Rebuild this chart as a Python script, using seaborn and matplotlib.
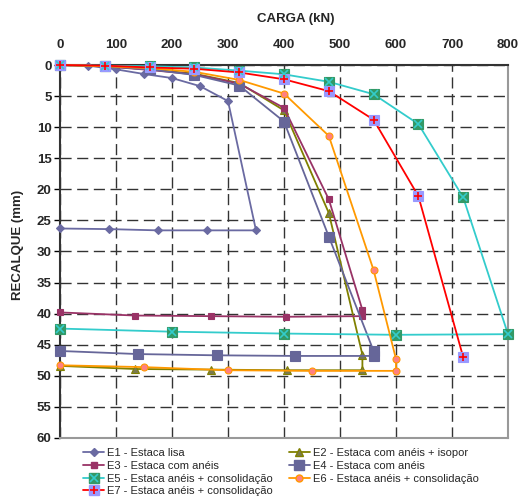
import matplotlib
matplotlib.use('Agg')
import matplotlib.pyplot as plt
from matplotlib.lines import Line2D
import seaborn as sns

# load (kN) / settlement (mm)
e1_carga = [0, 50, 100, 150, 200, 250, 300, 350, 263, 175, 88, 0]
e1_recalque = [0, 0.1, 0.7, 1.45, 2.1, 3.4, 5.8, 26.6, 26.6, 26.6, 26.4, 26.3]

e2_carga = [0, 80, 160, 240, 320, 400, 480, 540, 540, 405, 270, 134, 0]
e2_recalque = [0, 0.2, 0.7, 1.4, 2.9, 7.3, 23.8, 46.6, 49.1, 49.1, 49.0, 48.9, 48.4]

e3_carga = [0, 80, 160, 240, 320, 400, 480, 540, 540, 404, 269, 134, 0]
e3_recalque = [0, 0.2, 0.8, 1.5, 3.0, 6.9, 21.6, 39.4, 40.4, 40.5, 40.4, 40.3, 39.8]

e4_carga = [0, 80, 160, 240, 320, 400, 480, 560, 560, 420, 280, 140, 0]
e4_recalque = [0, 0.2, 0.7, 1.6, 3.3, 9.1, 27.6, 46.0, 46.8, 46.8, 46.7, 46.5, 46.0]

e5_carga = [0, 80, 160, 240, 320, 400, 480, 560, 640, 720, 800, 600, 400, 200, 0]
e5_recalque = [0, 0.1, 0.2, 0.4, 0.9, 1.5, 2.7, 4.7, 9.5, 21.3, 43.3, 43.4, 43.2, 42.9, 42.4]

e6_carga = [0, 80, 160, 240, 320, 400, 480, 560, 600, 600, 450, 300, 150, 0]
e6_recalque = [0, 0.2, 0.5, 1.1, 2.4, 4.6, 11.4, 33.0, 47.3, 49.2, 49.2, 49.1, 48.6, 48.3]

e7_carga = [0, 80, 160, 240, 320, 400, 480, 560, 640, 720]
e7_recalque = [0, 0.1, 0.4, 0.6, 1.2, 2.3, 4.2, 8.8, 21.1, 47.0]

labels = ['E1 - Estaca lisa',
          'E2 - Estaca com anéis + isopor',
          'E3 - Estaca com anéis',
          'E4 - Estaca com anéis',
          'E5 - Estaca anéis + consolidação',
          'E6 - Estaca anéis + consolidação',
          'E7 - Estaca anéis + consolidação']

sns.set_style('white')
plt.rcParams['font.family'] = ['Liberation Sans', 'DejaVu Sans']

fig = plt.figure(figsize=(5.18, 4.98), dpi=100)
ax = fig.add_axes([60 / 518, 1 - 438 / 498, 448 / 518, 373 / 498])

# (x, y, line colour, marker, size, face, edge, overlay marker, overlay colour)
series = [
    (e1_carga, e1_recalque, '#6A6AA2', 'D', 4.5, '#6A6AA2', '#6A6AA2', None, None),
    (e2_carga, e2_recalque, '#808000', '^', 6, '#7A7A50', '#808000', None, None),
    (e3_carga, e3_recalque, '#993366', 's', 5, '#993366', '#993366', None, None),
    (e4_carga, e4_recalque, '#666699', 's', 7, '#666699', '#666699', None, None),
    (e5_carga, e5_recalque, '#33CCCC', 's', 7, '#339966', '#339966', 'x', '#33CCCC'),
    (e6_carga, e6_recalque, '#FF9900', 'o', 5, '#FF8080', '#FF9900', None, None),
    (e7_carga, e7_recalque, '#FF0000', 's', 6.5, '#9999FF', '#9999FF', '+', '#FF0000'),
]

handles = []
for xs, ys, lc, mk, ms, mf, me, om, oc in series:
    sns.lineplot(x=xs, y=ys, sort=False, estimator=None, ax=ax, color=lc,
                 linewidth=1.3, marker=mk, markersize=ms, markerfacecolor=mf,
                 markeredgecolor=me, markeredgewidth=0.8, clip_on=False, zorder=3)
    h = Line2D([], [], color=lc, linewidth=1.3, marker=mk, markersize=ms,
               markerfacecolor=mf, markeredgecolor=me)
    if om:
        sns.lineplot(x=xs, y=ys, sort=False, estimator=None, ax=ax, color=oc,
                     linestyle='none', marker=om, markersize=ms - 1,
                     markeredgecolor=oc, markeredgewidth=1.2, clip_on=False, zorder=4)
        h = (h, Line2D([], [], linestyle='none', marker=om, markersize=ms - 1,
                       color=oc, markeredgecolor=oc, markeredgewidth=1.2))
    handles.append(h)

ax.set_xlim(0, 800)
ax.set_ylim(60, 0)
ax.set_xticks(range(0, 801, 100))
ax.set_yticks(range(0, 61, 5))
ax.xaxis.tick_top()
ax.tick_params(axis='x', length=0, pad=10, labelsize=9.5)
ax.tick_params(axis='y', length=4, width=1, color='black', pad=2, labelsize=9.5, left=True)
for t in ax.get_xticklabels() + ax.get_yticklabels():
    t.set_fontweight('bold')
ax.set_xlabel('')
ax.set_ylabel('')

ax.grid(True, color='#333333', linestyle=(0, (8, 4)), linewidth=1)
for s in ['top', 'left']:
    ax.spines[s].set_color('#333333')
    ax.spines[s].set_linewidth(1.5)
for s in ['right', 'bottom']:
    ax.spines[s].set_color('#999999')
    ax.spines[s].set_linewidth(1.5)

fig.text(296 / 518, 1 - 19 / 498, 'CARGA (kN)', ha='center', va='center',
         fontsize=9.5, fontweight='bold')
fig.text(18 / 518, 1 - 245 / 498, 'RECALQUE (mm)', ha='center', va='center',
         rotation=90, fontsize=9.5, fontweight='bold')

order = [0, 2, 4, 6, 1, 3, 5]
fig.legend([handles[i] for i in order], [labels[i] for i in order],
           loc='upper left', bbox_to_anchor=(83 / 518, 1 - 448 / 498), ncol=2,
           frameon=False, fontsize=8, handlelength=1.9, handletextpad=0.3,
           labelspacing=0.25, columnspacing=1.4, borderpad=0, borderaxespad=0)

fig.savefig('out.png', dpi=100)
